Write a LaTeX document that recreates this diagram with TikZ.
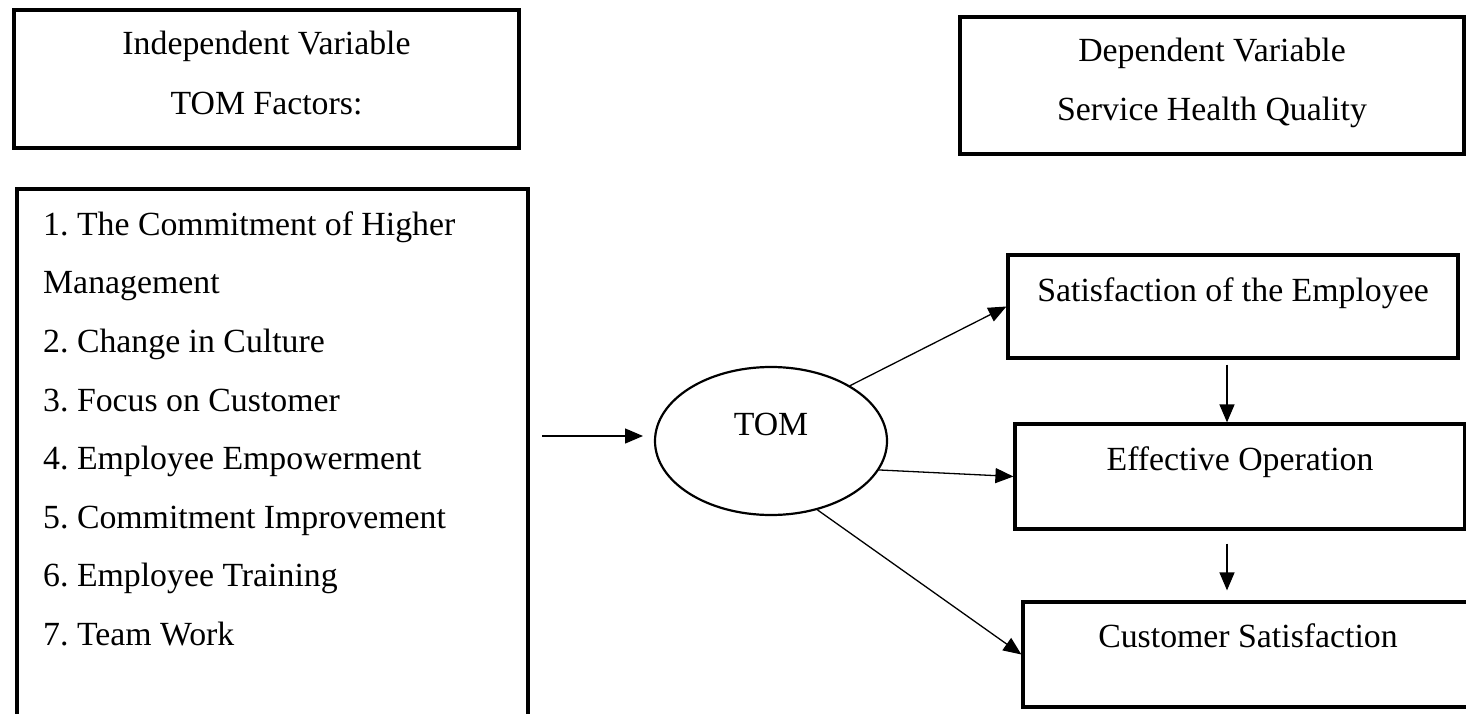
\documentclass[tikz,border=0pt]{standalone}
\usepackage{fontspec}
\setmainfont{Liberation Serif}
\usetikzlibrary{arrows.meta,shapes.geometric,calc}
\begin{document}
\frenchspacing
\begin{tikzpicture}[x=1pt,y=-1pt,
  txt/.style={font=\fontsize{33.8}{40}\selectfont\frenchspacing, inner sep=0pt},
  box/.style={draw, line width=3.2pt, inner sep=0pt},
  arr/.style={-{Triangle[length=18pt,width=15pt]}, line width=1.3pt},
]
\clip (0,0) rectangle (1466,714);
\fill[white] (0,0) rectangle (1466,714);

% Independent variable header
\node[box, minimum width=505pt, minimum height=138pt] (indep) at (266.5,79) {};
\node[txt, anchor=base] (indep1) at (266.5,55) {Independent Variable};
\node[txt, anchor=base] (indep2) at (266.5,115) {TOM Factors:};

% Dependent variable header
\node[box, minimum width=504pt, minimum height=137pt] (dep) at (1212,85.5) {};
\node[txt, anchor=base] (dep1) at (1212,62) {Dependent Variable};
\node[txt, anchor=base] (dep2) at (1212,121) {Service Health Quality};

% Factors list
\node[box, minimum width=511pt, minimum height=560pt] (factors) at (272.5,469) {};
\node[txt, anchor=north west, align=left, font=\fontsize{33.8}{58.6}\selectfont\frenchspacing] (list) at (43,210)
  {\rule{0pt}{25pt}1. The Commitment of Higher\\
   Management\\
   2. Change in Culture\\
   3. Focus on Customer\\
   4. Employee Empowerment\\
   5. Commitment Improvement\\
   6. Employee Training\\
   7. Team Work};

% TOM ellipse
\node[draw, ellipse, line width=2.2pt, minimum width=232pt, minimum height=148pt,
      txt, text height=23pt, text depth=35pt] (tom) at (771,441) {TOM};

% Outcome boxes
\node[box, txt, minimum width=450pt, text height=46pt, text depth=57pt] (sat) at (1233,306.5) {Satisfaction of the Employee};
\node[box, txt, minimum width=450pt, text height=46pt, text depth=59pt] (eff) at (1240,476.5) {Effective Operation};
\node[box, txt, minimum width=450pt, text height=45pt, text depth=60pt] (cust) at (1248,654.5) {Customer Satisfaction};

% Connectors
\coordinate (inS) at (542,436);
\coordinate (inE) at (643,436);
\draw[arr] (inS) -- (inE);
\draw[arr] (tom.35) -- (sat.west);
\draw[arr] (tom.-15) -- (eff.west);
\draw[arr] (tom.-56) -- (cust.west);
\coordinate (se1) at ($(sat.south)+(-6,5)$);
\draw[arr] (se1) -- (se1 |- eff.north);
\coordinate (ec1) at ($(eff.south)+(-13,13)$);
\draw[arr, shorten >=10pt] (ec1) -- (ec1 |- cust.north);
\end{tikzpicture}
\end{document}
